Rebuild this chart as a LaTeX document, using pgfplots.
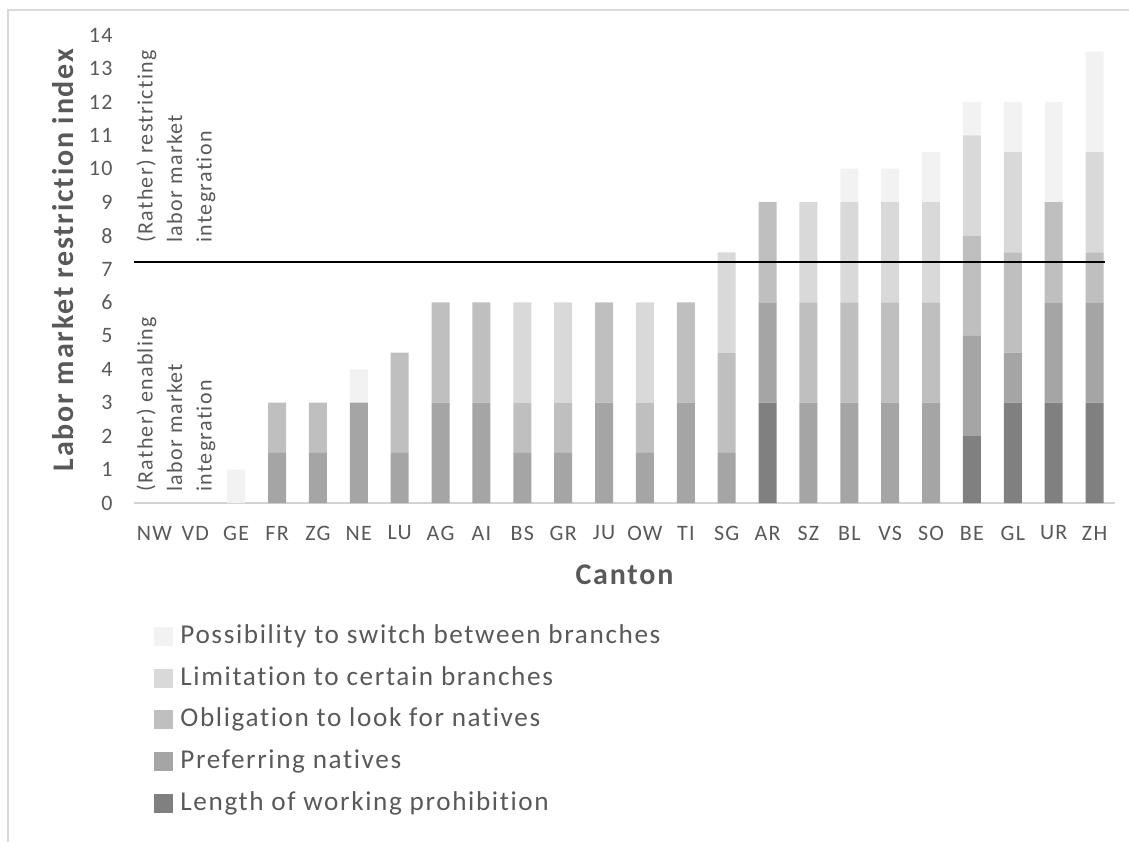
\documentclass[border=0pt]{standalone}
\usepackage{pgfplots}
\pgfplotsset{compat=1.18}
\usepackage{pgfplotstable}
\usepackage{fontspec}
\setmainfont{Carlito}[LetterSpace=6, Ligatures={NoCommon}]

\definecolor{txt}{HTML}{595959}
\definecolor{clen}{HTML}{808080}
\definecolor{cpref}{HTML}{A5A5A5}
\definecolor{cobl}{HTML}{BFBFBF}
\definecolor{clim}{HTML}{D9D9D9}
\definecolor{cposs}{HTML}{F2F2F2}

% canton index, then the five components of the index
\pgfplotstableread{
x  len pref obl lim poss
0  0   0    0   0   0
1  0   0    0   0   0
2  0   0    0   0   1
3  0   1.5  1.5 0   0
4  0   1.5  1.5 0   0
5  0   3    0   0   1
6  0   1.5  3   0   0
7  0   3    3   0   0
8  0   3    3   0   0
9  0   1.5  1.5 3   0
10 0   1.5  1.5 3   0
11 0   3    3   0   0
12 0   1.5  1.5 3   0
13 0   3    3   0   0
14 0   1.5  3   3   0
15 3   3    3   0   0
16 0   3    3   3   0
17 0   3    3   3   1
18 0   3    3   3   1
19 0   3    3   3   1.5
20 2   3    3   3   1
21 3   1.5  3   3   1.5
22 3   3    3   0   3
23 3   3    1.5 3   3
}\cantons

\pgfplotsset{
  sq/.style={draw=none, fill=#1,
    legend image code/.code={\fill[#1] (0pt,-4.75pt) rectangle (9.5pt,4.75pt);}},
}

\begin{document}
\begin{tikzpicture}
\path[use as bounding box] (-67pt,-169.5pt) rectangle (497.5pt,251.5pt);
\draw[gray!30, line width=0.6pt] (-63pt,-169.5pt) -- (-63pt,246.5pt) -- (497.5pt,246.5pt);

\begin{axis}[
  at={(0,0)}, anchor=south west,
  scale only axis,
  width=490.5pt, height=234pt,
  ybar stacked,
  bar width=9pt,
  xmin=-0.5, xmax=23.5,
  ymin=0, ymax=14,
  xtick={0,...,23},
  xticklabels={NW,VD,GE,FR,ZG,NE,LU,AG,AI,BS,GR,JU,OW,TI,SG,AR,SZ,BL,VS,SO,BE,GL,UR,ZH},
  ytick={0,...,14},
  major tick length=0pt,
  axis x line*=bottom,
  axis y line*=left,
  x axis line style={-, draw=gray!35, line width=0.75pt},
  y axis line style={draw=none},
  /pgf/number format/assume math mode=true,
  ticklabel style={font=\fontsize{11}{13}\selectfont, text=txt},
  xticklabel style={anchor=center, yshift=-15pt},
  yticklabel style={anchor=east, inner sep=0pt, xshift=-10.5pt},
  xlabel={Canton},
  ylabel={Labor market restriction index},
  label style={font=\bfseries\fontsize{15}{17}\selectfont, text=txt},
  xlabel style={at={(axis description cs:0.5,-0.1538)}, anchor=center},
  ylabel style={at={(axis description cs:-0.0724,0.519)}, anchor=center},
  reverse legend,
  legend cell align=left,
  legend style={at={(axis description cs:0,0)}, anchor=north west,
    xshift=10pt, yshift=-60pt, draw=none, fill=none, inner sep=0pt,
    row sep=7.85pt, column sep=3.5pt,
    font=\fontsize{13.6}{16}\selectfont, text=txt,
    nodes={inner sep=0pt, text height=10pt, text depth=3pt}},
]
\addplot[sq=clen]  table[x=x, y=len]  {\cantons};
\addplot[sq=cpref] table[x=x, y=pref] {\cantons};
\addplot[sq=cobl]  table[x=x, y=obl]  {\cantons};
\addplot[sq=clim]  table[x=x, y=lim]  {\cantons};
\addplot[sq=cposs] table[x=x, y=poss] {\cantons};
\legend{Length of working prohibition, Preferring natives,
  Obligation to look for natives, Limitation to certain branches,
  Possibility to switch between branches}
\end{axis}

\begin{axis}[
  at={(0,0)}, anchor=south west,
  scale only axis,
  width=490.5pt, height=234pt,
  xmin=-0.5, xmax=23.5,
  ymin=0, ymax=14,
  hide axis, clip=false,
]
\addplot[black, line width=1pt] coordinates {(-0.5,7.2) (23.25,7.2)};
\node[rotate=90, anchor=north west, inner sep=0pt, align=left, text=txt,
  font=\fontsize{11}{14.75}\selectfont] at (axis cs:-0.45,7.78)
  {(Rather) restricting\\labor market\\integration};
\node[rotate=90, anchor=north west, inner sep=0pt, align=left, text=txt,
  font=\fontsize{11}{14.75}\selectfont] at (axis cs:-0.45,0.33)
  {(Rather) enabling\\labor market\\integration};
\end{axis}
\end{tikzpicture}
\end{document}
